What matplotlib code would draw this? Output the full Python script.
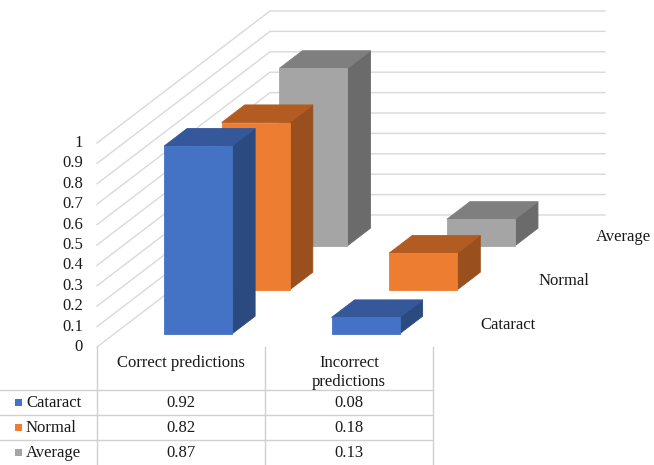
import matplotlib
matplotlib.use("Agg")
import matplotlib.pyplot as plt
from matplotlib.patches import Polygon, Rectangle
from matplotlib.transforms import offset_copy

plt.rcParams['font.family'] = ['Liberation Serif', 'DejaVu Serif']

# ---- data -------------------------------------------------------------
categories = ["Correct predictions", "Incorrect\npredictions"]
series = ["Cataract", "Normal", "Average"]
cataract = [0.92, 0.08]
normal = [0.82, 0.18]
average = [0.87, 0.13]
values = [cataract, normal, average]
yticks = [0, 0.1, 0.2, 0.3, 0.4, 0.5, 0.6, 0.7, 0.8, 0.9, 1]

# ---- styling ----------------------------------------------------------
face_colors = {
    "Cataract": ("#4472C4", "#34589A", "#2B4A80"),   # front, top, side
    "Normal":   ("#ED7D31", "#B35C22", "#994F1E"),
    "Average":  ("#A5A5A5", "#7F7F7F", "#6B6B6B"),
}
grid_color = "#D9D9D9"
text_color = "#1A1A1A"
FS = 12

W, H = 654, 465
fig = plt.figure(figsize=(W / 100, H / 100), dpi=100)

# chart axes: x in category units, y in value units
PX, PY = 167.5, 204.0          # pixels per category / per value unit
ORX, ORY = 97, 347             # pixel position of (0, 0) on the front plane
ax = fig.add_axes([0, 0, 1, 1])
ax.set_xlim(-ORX / PX, (W - ORX) / PX)
ax.set_ylim(-(H - ORY) / PY, ORY / PY)
ax.axis("off")

# oblique depth vector (full depth) in data units
DX, DY = 173 / PX, 132 / PY
n_rows = len(series)
slot = 1.0 / n_rows
bar_depth = slot * 0.4
bar_width = 0.406


def proj(x, v, d):
    return (x + d * DX, v + d * DY)


# wall gridlines: side wall diagonal, back wall horizontal
ncat = len(categories)
for v in yticks:
    xs, ys = zip(proj(0, v, 0), proj(0, v, 1), proj(ncat, v, 1))
    ax.plot(xs, ys, color=grid_color, lw=1.0, zorder=1)

# value tick labels
lab_tr = offset_copy(ax.transData, fig=fig, x=-14, y=0, units="dots")
for v in yticks:
    ax.text(0, v, f"{v:g}", ha="right", va="center", fontsize=FS,
            color=text_color, transform=lab_tr)

# bars, back row first
z = 2
for r in reversed(range(n_rows)):
    name = series[r]
    front, top, side = face_colors[name]
    d0 = r * slot + (slot - bar_depth) / 2
    d1 = d0 + bar_depth
    for c in range(ncat):
        h = values[r][c]
        xl = c + 0.5 - bar_width / 2
        xr = c + 0.5 + bar_width / 2
        side_poly = [proj(xr, 0, d0), proj(xr, 0, d1), proj(xr, h, d1), proj(xr, h, d0)]
        top_poly = [proj(xl, h, d0), proj(xr, h, d0), proj(xr, h, d1), proj(xl, h, d1)]
        front_poly = [proj(xl, 0, d0), proj(xr, 0, d0), proj(xr, h, d0), proj(xl, h, d0)]
        for poly, col in ((side_poly, side), (top_poly, top), (front_poly, front)):
            ax.add_patch(Polygon(poly, closed=True, facecolor=col,
                                 edgecolor=col, lw=0.6, zorder=z))
        z += 1

# depth-axis series labels
ser_tr = offset_copy(ax.transData, fig=fig, x=20, y=0, units="dots")
for r, name in enumerate(series):
    x, y = proj(ncat, 0, (r + 0.5) * slot)
    ax.text(x, y, name, ha="left", va="center", fontsize=FS,
            color=text_color, transform=ser_tr)

# ---- data table below the chart (pixel coordinates) -------------------
tab = fig.add_axes([0, 0, 1, 1])
tab.set_xlim(0, W)
tab.set_ylim(H, 0)
tab.axis("off")
tab.patch.set_alpha(0)

col_edges = [ORX, 265, 433]
row_edges = [347, 390, 415, 440, 465]
line_col = "#D0D0D0"
for y in row_edges[1:-1]:
    tab.plot([0, col_edges[-1]], [y, y], color=line_col, lw=1.0)
for x in col_edges:
    tab.plot([x, x], [row_edges[0], H], color=line_col, lw=1.0)

for c, cat in enumerate(categories):
    xc = (col_edges[c] + col_edges[c + 1]) / 2
    tab.text(xc, 355, cat, ha="center", va="top", fontsize=FS,
             color=text_color, linespacing=1.25, multialignment="center")

for r, name in enumerate(series):
    yc = (row_edges[r + 1] + row_edges[r + 2]) / 2
    tab.add_patch(Rectangle((15, yc - 3.5), 7, 7, facecolor=face_colors[name][0],
                            edgecolor="none"))
    tab.text(26, yc, name, ha="left", va="center", fontsize=FS, color=text_color)
    for c in range(ncat):
        xc = (col_edges[c] + col_edges[c + 1]) / 2
        tab.text(xc, yc, f"{values[r][c]:.2f}", ha="center", va="center",
                 fontsize=FS, color=text_color)

fig.savefig("out.png", dpi=100)
